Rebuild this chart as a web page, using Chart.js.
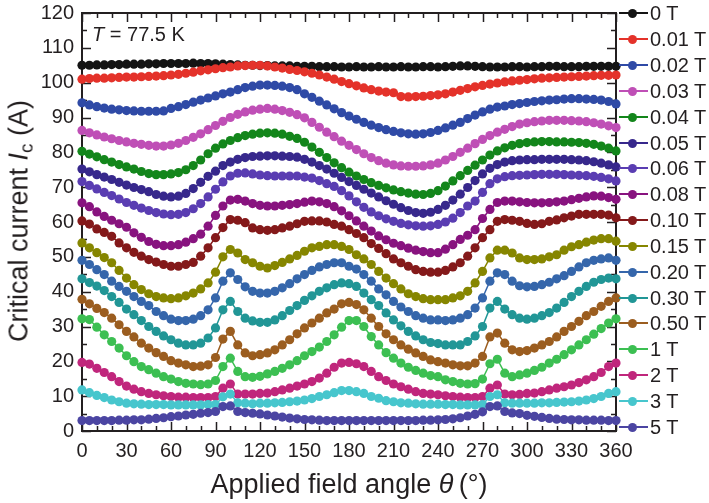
<!DOCTYPE html>
<html>
<head>
<meta charset="utf-8">
<script src="https://cdn.jsdelivr.net/npm/chart.js@4.4.0/dist/chart.umd.min.js"></script>
<style>
  html, body { margin: 0; padding: 0; background: #fff; }
  body { font-family: 'Liberation Sans', Arial, sans-serif; color: #231f20; }
  #wrap { position: relative; width: 709px; height: 503px; overflow: hidden; }
  #chart { position: absolute; left: 0; top: 0; }
  .ytitle { position: absolute; left: 19px; top: 221px; font-size: 27px; line-height: 27px; white-space: nowrap;
            transform: translate(-50%, -50%) rotate(-90deg); }
  .xtitle { position: absolute; left: 349px; top: 471px; font-size: 27px; line-height: 27px; white-space: nowrap;
            transform: translateX(-50%); }
  .note { position: absolute; left: 92px; top: 24px; font-size: 20px; line-height: 20px; white-space: nowrap; }
  sub { font-size: 0.7em; vertical-align: -0.25em; line-height: 0; }
  .leg { position: absolute; left: 619px; height: 20px; width: 90px; font-size: 20px; line-height: 20px; white-space: nowrap; }
  .leg .ln { position: absolute; left: 0; top: 9px; width: 29px; height: 2px; }
  .leg .dt { position: absolute; left: 9px; top: 6px; width: 9px; height: 9px; border-radius: 50%; }
  .leg .tx { position: absolute; left: 31px; top: 0; }
  #warn { position: absolute; left: 200px; top: 200px; color: red; font-size: 20px; }
</style>
</head>
<body>
<div id="wrap">
  <canvas id="chart" width="709" height="503"></canvas>
  <div class="ytitle">Critical current <i>I</i><sub>c</sub> (A)</div>
  <div class="xtitle">Applied field angle <i>&theta;</i>&thinsp;(&deg;)</div>
  <div class="note"><i>T</i> = 77.5 K</div>
  <div id="legend"></div>
  <div id="warn"></div>
</div>
<script>
/* ===== data ===== */
const angles = [
  0, 5, 10, 15, 20, 25, 30, 35, 40, 45,
  50, 55, 60, 65, 70, 75, 80, 85, 90, 95,
  100, 105, 110, 115, 120, 125, 130, 135, 140, 145,
  150, 155, 160, 165, 170, 175, 180, 185, 190, 195,
  200, 205, 210, 215, 220, 225, 230, 235, 240, 245,
  250, 255, 260, 265, 270, 275, 280, 285, 290, 295,
  300, 305, 310, 315, 320, 325, 330, 335, 340, 345,
  350, 355, 360
];

const fieldLabels = ['0 T', '0.01 T', '0.02 T', '0.03 T', '0.04 T', '0.05 T', '0.06 T', '0.08 T',
  '0.10 T', '0.15 T', '0.20 T', '0.30 T', '0.50 T', '1 T', '2 T', '3 T', '5 T'];

const fieldColors = ['#141414', '#e4322a', '#2f4aa6', '#bf4fb6', '#13861b', '#37288c', '#5a3db2', '#88137f',
  '#84191a', '#868600', '#3566ab', '#219696', '#9b5d1f', '#3cbf52', '#c0267c', '#47c6cd', '#4b45a2'];

// critical current (A), one value per angle
const ic_0T = [
  105.0, 105.0, 105.1, 105.1, 105.2, 105.2, 105.3, 105.3, 105.3, 105.4,
  105.4, 105.5, 105.5, 105.5, 105.5, 105.6, 105.5, 105.5, 105.4, 105.3,
  105.2, 105.1, 105.0, 105.0, 104.9, 104.9, 104.8, 104.8, 104.8, 104.7,
  104.7, 104.7, 104.6, 104.6, 104.6, 104.5, 104.5, 104.6, 104.5, 104.5,
  104.6, 104.5, 104.5, 104.6, 104.5, 104.5, 104.6, 104.6, 104.5, 104.6,
  104.7, 104.8, 104.8, 104.7, 104.6, 104.5, 104.5, 104.5, 104.6, 104.6,
  104.5, 104.6, 104.6, 104.7, 104.7, 104.6, 104.6, 104.6, 104.7, 104.7,
  104.7, 104.7, 104.7
];
const ic_001T = [
  101.0, 101.2, 101.3, 101.3, 101.4, 101.5, 101.6, 101.6, 101.7, 101.8,
  101.9, 102.0, 102.2, 102.4, 102.7, 103.0, 103.4, 103.7, 104.0, 104.3,
  104.5, 104.8, 104.9, 105.0, 105.0, 104.8, 104.5, 104.2, 103.8, 103.5,
  103.1, 102.7, 102.2, 101.6, 101.0, 100.3, 99.7, 99.1, 98.5, 98.0,
  97.6, 97.3, 97.1, 96.0, 95.9, 96.0, 96.1, 96.3, 96.5, 96.8,
  97.3, 97.8, 98.3, 98.8, 99.2, 99.6, 99.9, 100.2, 100.5, 100.7,
  100.9, 101.1, 101.3, 101.4, 101.5, 101.6, 101.7, 101.8, 101.9, 102.0,
  102.1, 102.1, 102.2
];
const ic_002T = [
  94.2, 93.6, 93.1, 92.7, 92.4, 92.2, 92.0, 91.9, 91.8, 91.8,
  91.8, 91.9, 92.6, 93.1, 93.7, 94.4, 95.0, 95.6, 96.2, 96.8,
  97.3, 98.0, 98.6, 99.0, 99.3, 99.3, 99.2, 99.0, 98.6, 98.0,
  96.8, 95.8, 94.7, 93.6, 92.5, 91.4, 90.4, 89.5, 88.6, 87.8,
  87.1, 86.5, 86.0, 85.6, 85.3, 85.2, 85.3, 85.7, 86.3, 87.0,
  87.8, 88.6, 89.7, 90.7, 91.6, 92.4, 93.0, 93.3, 93.7, 94.0,
  94.3, 94.6, 94.8, 95.0, 95.1, 95.3, 95.4, 95.4, 95.3, 95.2,
  95.0, 94.6, 93.9
];
const ic_003T = [
  86.3, 85.6, 85.0, 84.4, 83.9, 83.4, 83.0, 82.6, 82.3, 82.0,
  81.8, 81.8, 82.1, 82.6, 83.4, 84.3, 85.3, 86.5, 87.7, 88.9,
  90.0, 90.9, 91.6, 92.1, 92.4, 92.6, 92.4, 92.0, 91.5, 90.8,
  89.9, 88.6, 87.2, 85.8, 84.5, 83.2, 82.0, 80.8, 79.6, 78.5,
  77.6, 76.9, 76.4, 76.1, 76.0, 76.0, 76.1, 76.4, 76.9, 77.8,
  78.8, 80.0, 81.2, 82.5, 83.7, 84.8, 85.8, 86.6, 87.4, 88.1,
  88.5, 88.8, 89.0, 89.2, 89.2, 89.2, 89.1, 89.0, 88.8, 88.5,
  88.1, 87.6, 87.1
];
const ic_004T = [
  80.3, 79.5, 78.7, 77.9, 77.2, 76.5, 75.8, 75.2, 74.5, 73.9,
  73.6, 73.6, 73.8, 74.2, 75.0, 76.2, 77.8, 79.6, 81.2, 82.4,
  83.4, 84.2, 84.8, 85.2, 85.5, 85.6, 85.5, 85.2, 84.6, 84.0,
  82.9, 81.5, 80.0, 78.5, 77.0, 75.6, 74.3, 73.2, 72.2, 71.3,
  70.5, 69.8, 69.2, 68.7, 68.3, 68.0, 67.9, 68.2, 69.0, 70.3,
  71.8, 73.3, 74.8, 76.3, 77.8, 79.2, 80.4, 81.3, 82.0, 82.5,
  82.8, 83.0, 83.1, 83.1, 83.0, 83.0, 82.9, 82.8, 82.6, 82.3,
  81.8, 81.2, 80.4
];
const ic_005T = [
  75.2, 74.4, 73.6, 72.9, 72.2, 71.4, 70.6, 69.9, 69.3, 68.7,
  67.9, 67.4, 67.2, 67.4, 68.2, 69.6, 71.4, 73.1, 74.6, 76.2,
  77.2, 78.0, 78.5, 78.8, 78.9, 79.0, 79.0, 78.9, 78.8, 78.6,
  78.0, 77.2, 76.2, 75.2, 74.0, 72.8, 71.6, 70.5, 69.4, 68.3,
  67.2, 66.1, 65.1, 64.1, 63.3, 62.7, 62.5, 62.8, 63.6, 64.8,
  66.3, 68.0, 69.9, 71.9, 73.8, 75.4, 76.5, 77.2, 77.6, 77.8,
  77.9, 77.9, 78.0, 78.0, 78.0, 78.0, 77.9, 77.8, 77.6, 77.3,
  76.9, 76.4, 75.8
];
const ic_006T = [
  71.6, 70.5, 69.5, 68.5, 67.6, 66.6, 65.6, 64.8, 64.0, 63.3,
  62.7, 62.3, 62.1, 62.2, 62.7, 63.8, 65.3, 67.2, 69.4, 71.5,
  73.2, 74.0, 74.1, 73.8, 73.5, 73.3, 73.2, 73.2, 73.2, 73.2,
  72.9, 72.6, 71.9, 71.0, 70.2, 69.0, 67.5, 65.8, 64.2, 62.9,
  61.8, 60.9, 60.2, 59.6, 59.2, 58.9, 58.8, 58.9, 59.3, 60.0,
  61.1, 62.7, 64.6, 66.0, 68.5, 71.0, 72.4, 73.0, 73.3, 73.4,
  73.5, 73.6, 73.7, 73.7, 73.7, 73.6, 73.5, 73.4, 73.3, 73.1,
  72.8, 72.4, 71.8
];
const ic_008T = [
  65.5, 64.4, 62.9, 61.6, 60.5, 59.5, 58.5, 56.9, 55.6, 54.4,
  53.6, 53.2, 53.2, 53.5, 54.2, 55.2, 56.5, 58.8, 61.9, 64.6,
  66.3, 66.5, 66.0, 65.3, 64.8, 64.6, 64.6, 64.8, 65.0, 65.3,
  65.7, 66.0, 65.8, 65.3, 64.4, 63.2, 61.8, 60.3, 58.8, 57.4,
  56.0, 54.9, 53.9, 53.2, 52.5, 51.9, 51.5, 51.2, 51.2, 52.2,
  53.5, 55.0, 56.2, 57.8, 61.0, 63.6, 65.6, 66.0, 66.0, 65.8,
  65.6, 65.5, 65.5, 65.6, 65.8, 66.0, 66.4, 66.8, 67.2, 67.5,
  67.4, 67.0, 66.5
];
const ic_010T = [
  60.3, 59.4, 58.0, 57.0, 55.9, 54.0, 52.6, 51.3, 50.2, 49.2,
  48.5, 47.8, 47.3, 47.3, 47.8, 48.4, 50.2, 52.6, 55.5, 58.4,
  60.7, 60.5, 59.8, 58.3, 57.8, 57.6, 57.8, 58.3, 58.8, 59.5,
  60.2, 60.3, 60.3, 60.0, 59.3, 58.8, 57.8, 56.7, 55.5, 53.8,
  52.4, 50.9, 49.4, 48.3, 47.3, 46.3, 45.8, 45.6, 45.6, 46.1,
  47.1, 48.3, 50.2, 52.6, 55.5, 57.8, 60.2, 60.7, 60.5, 60.2,
  59.6, 59.3, 59.5, 60.2, 60.6, 61.2, 61.7, 62.2, 62.2, 62.2,
  62.2, 62.0, 61.2
];
const ic_015T = [
  54.0, 52.6, 51.2, 49.8, 48.3, 46.1, 43.9, 42.0, 40.6, 39.4,
  38.6, 38.2, 38.0, 38.2, 38.8, 39.6, 40.8, 42.5, 45.6, 50.0,
  52.1, 51.1, 49.2, 48.3, 47.3, 46.8, 47.5, 48.4, 49.4, 50.4,
  51.6, 52.6, 53.0, 53.5, 53.5, 53.0, 52.1, 50.6, 49.4, 47.8,
  45.8, 43.9, 42.3, 40.8, 39.4, 38.6, 38.0, 37.7, 37.7, 37.7,
  38.2, 38.8, 40.1, 42.5, 45.8, 49.7, 51.9, 51.9, 51.1, 49.7,
  49.2, 49.2, 49.4, 50.0, 50.6, 51.9, 52.9, 53.5, 54.2, 54.8,
  55.2, 55.2, 54.5
];
const ic_020T = [
  49.0, 47.8, 46.3, 44.9, 43.0, 41.5, 40.1, 38.6, 37.2, 36.0,
  34.3, 33.1, 32.1, 31.7, 31.7, 32.1, 33.1, 34.8, 38.2, 43.0,
  45.4, 43.5, 41.4, 40.1, 39.6, 39.6, 40.1, 41.1, 42.3, 43.7,
  44.9, 46.1, 47.1, 47.8, 48.3, 48.3, 47.3, 46.5, 44.9, 43.0,
  40.8, 39.1, 37.2, 35.6, 34.3, 33.1, 32.4, 31.9, 31.9, 31.7,
  31.9, 32.4, 33.4, 35.3, 38.2, 43.0, 45.4, 44.9, 43.0, 41.7,
  41.4, 41.5, 42.0, 42.7, 43.7, 44.6, 45.8, 47.1, 48.3, 49.0,
  49.4, 49.7, 49.0
];
const ic_030T = [
  43.7, 42.6, 41.6, 40.3, 38.6, 36.9, 35.0, 33.4, 31.7, 30.0,
  28.6, 27.3, 26.2, 25.2, 24.7, 24.7, 25.2, 26.7, 29.6, 34.8,
  37.2, 34.3, 32.4, 31.6, 31.2, 31.2, 31.9, 33.1, 34.6, 36.0,
  37.5, 38.8, 40.1, 41.1, 42.0, 42.5, 42.3, 41.5, 39.6, 37.7,
  36.0, 33.9, 31.9, 30.2, 28.6, 27.3, 26.2, 25.4, 25.1, 24.7,
  24.7, 24.7, 25.7, 27.3, 30.0, 35.3, 37.2, 35.0, 33.4, 32.4,
  32.1, 32.4, 33.1, 34.0, 35.3, 36.9, 38.6, 40.1, 41.5, 42.7,
  43.5, 43.9, 43.7
];
const ic_050T = [
  37.8, 36.5, 35.2, 34.0, 32.4, 30.5, 28.6, 27.0, 25.2, 23.8,
  22.5, 21.4, 20.2, 19.5, 19.0, 18.5, 18.6, 19.0, 21.1, 26.4,
  28.6, 24.7, 22.4, 21.6, 21.9, 22.4, 23.3, 24.7, 26.2, 27.9,
  29.6, 31.0, 32.4, 33.9, 35.0, 36.5, 36.9, 36.3, 34.8, 32.4,
  30.0, 27.9, 26.2, 24.7, 23.5, 22.4, 21.4, 20.4, 19.9, 19.5,
  19.0, 18.7, 18.7, 19.5, 21.4, 27.0, 28.1, 25.2, 23.3, 22.8,
  23.1, 23.8, 24.7, 25.7, 27.0, 28.6, 30.0, 31.5, 33.1, 34.3,
  35.8, 37.2, 38.2
];
const ic_1T = [
  32.2, 32.0, 29.8, 27.6, 25.7, 23.8, 21.6, 19.9, 18.5, 17.6,
  16.6, 15.6, 14.9, 14.2, 13.7, 13.5, 13.3, 13.5, 14.5, 18.5,
  20.9, 17.1, 15.6, 15.4, 15.7, 16.4, 17.1, 18.0, 19.0, 20.2,
  21.6, 22.8, 24.1, 25.7, 27.6, 29.8, 31.7, 31.7, 30.0, 27.1,
  24.7, 22.5, 20.9, 19.5, 18.3, 17.4, 16.6, 15.9, 15.6, 14.7,
  14.2, 13.7, 13.5, 13.6, 14.9, 19.3, 20.6, 16.6, 15.6, 16.1,
  16.6, 17.4, 18.3, 19.5, 20.6, 21.9, 23.3, 24.7, 26.2, 27.8,
  29.4, 31.0, 32.2
];
const ic_2T = [
  19.7, 19.2, 18.0, 16.8, 15.6, 14.2, 12.9, 12.0, 11.3, 10.8,
  10.4, 10.1, 9.9, 9.7, 9.7, 9.6, 9.6, 9.6, 9.9, 12.3,
  13.5, 10.6, 10.6, 10.6, 10.8, 10.9, 11.3, 11.8, 12.3, 12.9,
  13.5, 14.2, 15.2, 16.6, 18.3, 19.5, 19.7, 19.3, 18.5, 17.1,
  15.6, 14.5, 13.5, 12.7, 12.0, 11.3, 10.8, 10.6, 10.4, 10.1,
  9.9, 9.7, 9.6, 9.6, 9.9, 12.3, 13.2, 10.6, 10.4, 10.5,
  10.8, 10.9, 11.3, 11.8, 12.3, 12.7, 13.2, 13.9, 14.7, 15.6,
  16.8, 18.5, 19.5
];
const ic_3T = [
  11.8, 11.0, 10.2, 9.6, 8.9, 8.4, 8.0, 7.8, 7.7, 7.6,
  7.6, 7.6, 7.5, 7.5, 7.5, 7.5, 7.5, 7.6, 7.6, 9.8,
  10.6, 8.1, 8.0, 7.8, 8.0, 8.0, 8.1, 8.2, 8.4, 8.6,
  8.9, 9.3, 9.9, 10.4, 11.0, 11.6, 11.6, 11.3, 10.8, 9.9,
  9.4, 8.7, 8.4, 8.1, 8.0, 7.8, 7.7, 7.7, 7.7, 7.6,
  7.6, 7.5, 7.5, 7.5, 7.6, 9.9, 10.4, 8.1, 8.0, 8.0,
  8.0, 8.0, 8.1, 8.1, 8.2, 8.3, 8.4, 8.6, 8.9, 9.3,
  9.9, 10.8, 11.3
];
const ic_5T = [
  3.0, 3.0, 3.0, 3.0, 3.0, 3.1, 3.1, 3.2, 3.2, 3.4,
  3.6, 3.8, 4.1, 4.3, 4.6, 4.8, 5.1, 5.3, 5.6, 7.0,
  7.2, 5.6, 5.3, 5.1, 4.9, 4.6, 4.3, 4.0, 3.7, 3.5,
  3.3, 3.2, 3.1, 3.0, 3.0, 3.0, 3.0, 3.0, 3.0, 3.0,
  3.0, 3.0, 3.0, 3.0, 3.0, 3.0, 3.1, 3.1, 3.2, 3.3,
  3.5, 3.8, 4.3, 4.8, 5.5, 7.0, 7.2, 5.6, 5.2, 5.0,
  4.5, 4.2, 3.9, 3.6, 3.4, 3.3, 3.2, 3.2, 3.1, 3.1,
  3.1, 3.0, 3.0
];

const icSeries = [ic_0T, ic_001T, ic_002T, ic_003T, ic_004T, ic_005T, ic_006T, ic_008T,
  ic_010T, ic_015T, ic_020T, ic_030T, ic_050T, ic_1T, ic_2T, ic_3T, ic_5T];

const FONT = "'Liberation Sans', Arial, sans-serif";
const INK = '#231f20';

// quick sanity check on hand-typed arrays
const bad = icSeries.map((s, i) => s.length !== angles.length ? fieldLabels[i] + ':' + s.length : null).filter(Boolean);
if (bad.length) document.getElementById('warn').textContent = 'len! ' + bad.join(' ');

/* ===== frame + inward ticks (mirror on all 4 sides) ===== */
const frameTicks = {
  id: 'frameTicks',
  beforeDatasetsDraw(chart) {
    const { ctx, chartArea: a, scales: { x, y } } = chart;
    ctx.save();
    ctx.strokeStyle = INK;
    ctx.lineWidth = 1.5;
    ctx.beginPath();
    for (let v = 0; v <= 360; v += 10) {
      const px = Math.round(x.getPixelForValue(v)) + 0.5;
      const len = v % 30 === 0 ? 9 : 5;
      ctx.moveTo(px, a.bottom); ctx.lineTo(px, a.bottom - len);
      ctx.moveTo(px, a.top); ctx.lineTo(px, a.top + len);
    }
    for (let v = 0; v <= 120; v += 5) {
      const py = Math.round(y.getPixelForValue(v)) + 0.5;
      const len = v % 10 === 0 ? 9 : 5;
      ctx.moveTo(a.left, py); ctx.lineTo(a.left + len, py);
      ctx.moveTo(a.right, py); ctx.lineTo(a.right - len, py);
    }
    ctx.stroke();
    ctx.lineWidth = 2;
    ctx.strokeRect(a.left, a.top, a.right - a.left, a.bottom - a.top);
    ctx.restore();
  }
};

const datasets = icSeries.map((vals, i) => ({
  label: fieldLabels[i],
  data: angles.map((a, k) => ({ x: a, y: vals[k] })),
  borderColor: fieldColors[i],
  backgroundColor: fieldColors[i],
  borderWidth: 1.5,
  pointRadius: 4.6,
  pointBorderWidth: 0,
  pointHoverRadius: 4.6,
  tension: 0,
  clip: false,
  order: icSeries.length - i,
}));

const chart = new Chart(document.getElementById('chart'), {
  type: 'line',
  data: { datasets },
  options: {
    responsive: false,
    devicePixelRatio: 1,
    animation: false,
    events: [],
    layout: { padding: { left: 0, top: 13, right: 93, bottom: 0 } },
    plugins: { legend: { display: false }, tooltip: { enabled: false } },
    scales: {
      x: {
        type: 'linear', min: 0, max: 360,
        grid: { display: false, drawTicks: false },
        border: { display: false },
        ticks: { stepSize: 30, autoSkip: false, maxRotation: 0, padding: 8, color: INK,
                 font: { family: FONT, size: 20 } },
        afterFit(s) { s.height = 72; s.paddingLeft = 0; s.paddingRight = 0; },
      },
      y: {
        min: 0, max: 120,
        grid: { display: false, drawTicks: false },
        border: { display: false },
        ticks: { stepSize: 10, padding: 8, color: INK, font: { family: FONT, size: 20 } },
        // keep the plot box fixed: left edge 82px, top 13px
        afterFit(s) { s.width = 82; s.paddingTop = 0; s.paddingBottom = 0; },
      },
    },
  },
  plugins: [frameTicks],
});

/* ===== legend (html, built from the datasets) ===== */
const legendBox = document.getElementById('legend');
chart.data.datasets.forEach((ds, i) => {
  const item = document.createElement('div');
  item.className = 'leg';
  item.style.top = (13.3 + i * 25.84 - 10) + 'px';
  item.innerHTML = `<span class="ln" style="background:${ds.borderColor}"></span>` +
                   `<span class="dt" style="background:${ds.borderColor}"></span>` +
                   `<span class="tx">${ds.label}</span>`;
  legendBox.appendChild(item);
});
</script>
</body>
</html>
